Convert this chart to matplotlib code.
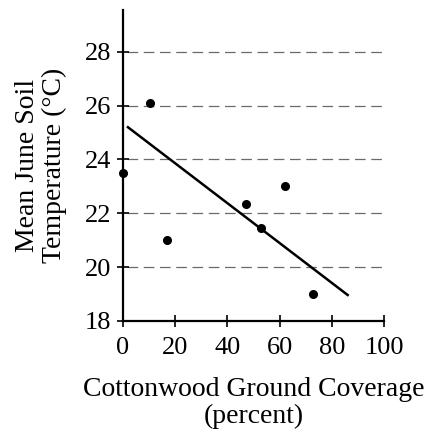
import matplotlib.pyplot as plt
import numpy as np

coverage = [0, 10.3, 16.7, 47.0, 52.9, 62.1, 72.7]
soil_temp = [23.5, 26.1, 21.0, 22.35, 21.45, 23.0, 19.0]
fit_x = [1.9, 86.1]
fit_y = [25.2, 18.96]

plt.rcParams['font.family'] = ['Liberation Serif', 'DejaVu Serif']

fig = plt.figure(figsize=(4.30, 4.33), dpi=100)
ax = fig.add_axes([0.286, 0.259, 0.607, 0.718])

for yv in [20, 22, 24, 26, 28]:
    ax.plot([1.5, 100], [yv, yv], color='#6a6a6a', linestyle=(0, (8.5, 4.5)), linewidth=0.9, zorder=1)

ax.plot(fit_x, fit_y, color='black', linewidth=1.8, zorder=2)
ax.plot(coverage, soil_temp, 'o', color='black', markersize=5.5, zorder=3, clip_on=False)

ax.set_xlim(0, 100)
ax.set_ylim(18, 29.56)
ax.set_xticks(np.arange(0, 101, 20))
ax.set_yticks(np.arange(18, 29, 2))

for s in ['top', 'right']:
    ax.spines[s].set_visible(False)
for s in ['left', 'bottom']:
    ax.spines[s].set_linewidth(1.6)

ax.tick_params(axis='x', direction='inout', length=9, width=1.2, labelsize=19, pad=7)
ax.tick_params(axis='y', direction='inout', length=9, width=1.2, labelsize=19, pad=4)

ax.set_xlabel('Cottonwood Ground Coverage\n(percent)', fontsize=20, labelpad=13, linespacing=1.1)
ax.set_ylabel('Mean June Soil\nTemperature (°C)', fontsize=20, labelpad=13, linespacing=1.08)

plt.savefig('out.png', dpi=100)
